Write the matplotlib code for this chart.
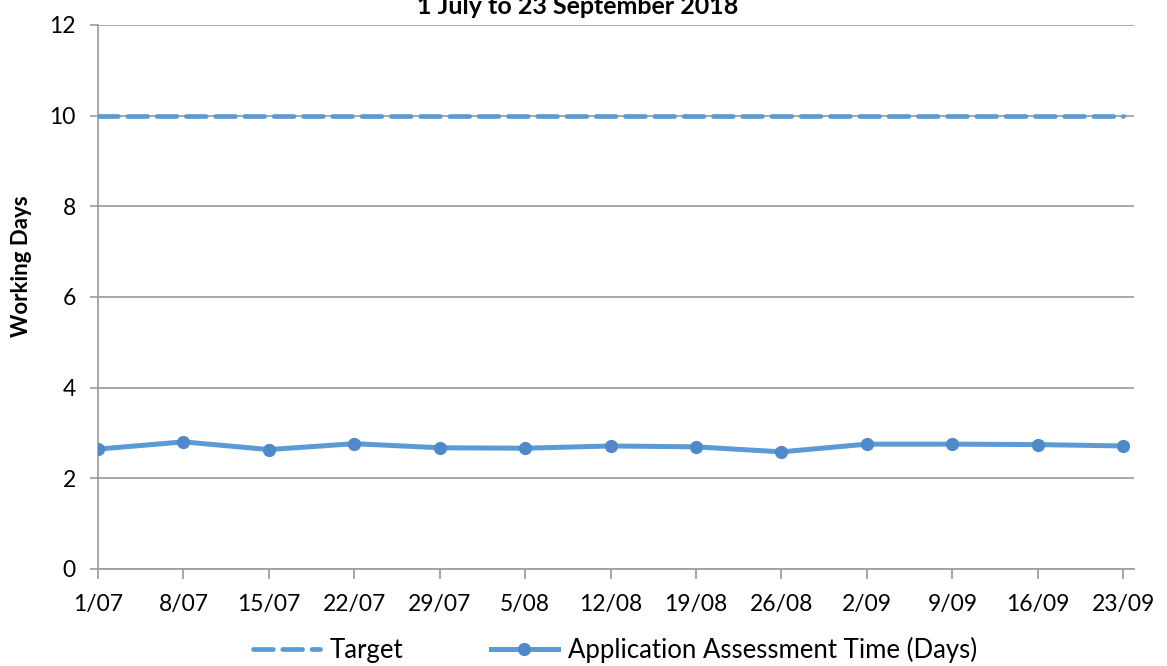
import matplotlib.pyplot as plt
import numpy as np

# data
dates = ['1/07', '8/07', '15/07', '22/07', '29/07', '5/08', '12/08',
         '19/08', '26/08', '2/09', '9/09', '16/09', '23/09']
target = [10] * 13
assessment = [2.64, 2.80, 2.63, 2.76, 2.67, 2.66, 2.71,
              2.69, 2.58, 2.75, 2.75, 2.74, 2.71]

plt.rcParams['font.family'] = ['Lato', 'DejaVu Sans']
blue = '#5B9BD5'
grey = '#A0A0A0'

fig = plt.figure(figsize=(11.67, 6.66), dpi=100)
ax = fig.add_axes([0.084, 0.146, 0.888, 0.8165])

x = np.arange(len(dates))
ax.plot(x, target, color=blue, lw=3.4, ls=(0, (4.2, 2.0)),
        dash_capstyle='round', label='Target', zorder=3)
ax.plot(x, assessment, color=blue, lw=3.6, marker='o', ms=8.5,
        mfc='#4F89C8', mec='#4F89C8', label='Application Assessment Time (Days)', zorder=3)

ax.set_xlim(0, 12.13)
ax.set_ylim(0, 12)
ax.set_yticks(range(0, 13, 2))
ax.set_xticks(x)
ax.set_xticklabels(dates)
ax.grid(axis='y', color=grey, lw=1.3)
ax.set_axisbelow(True)

for s in ['top', 'right']:
    ax.spines[s].set_visible(False)
for s in ['left', 'bottom']:
    ax.spines[s].set_color(grey)
    ax.spines[s].set_linewidth(1.3)
ax.tick_params(axis='both', colors=grey, labelcolor='black', labelsize=16.5, width=1.3)
ax.tick_params(axis='y', length=6, pad=10)
ax.tick_params(axis='x', length=7, pad=11)

ax.set_ylabel('Working Days', fontsize=16, fontweight='bold')
ax.yaxis.set_label_coords(-0.064, 0.557)

fig.text(0.495, 1 - 14 / 666, '1 July to 23 September 2018', ha='center',
         va='baseline', fontsize=18, fontweight='bold')

fig.legend(loc='center', bbox_to_anchor=(0.527, 0.024), ncol=2, frameon=False,
           fontsize=18.5, handlelength=2.6, columnspacing=3.4, handletextpad=0.4)

fig.savefig('out.png', dpi=100)
